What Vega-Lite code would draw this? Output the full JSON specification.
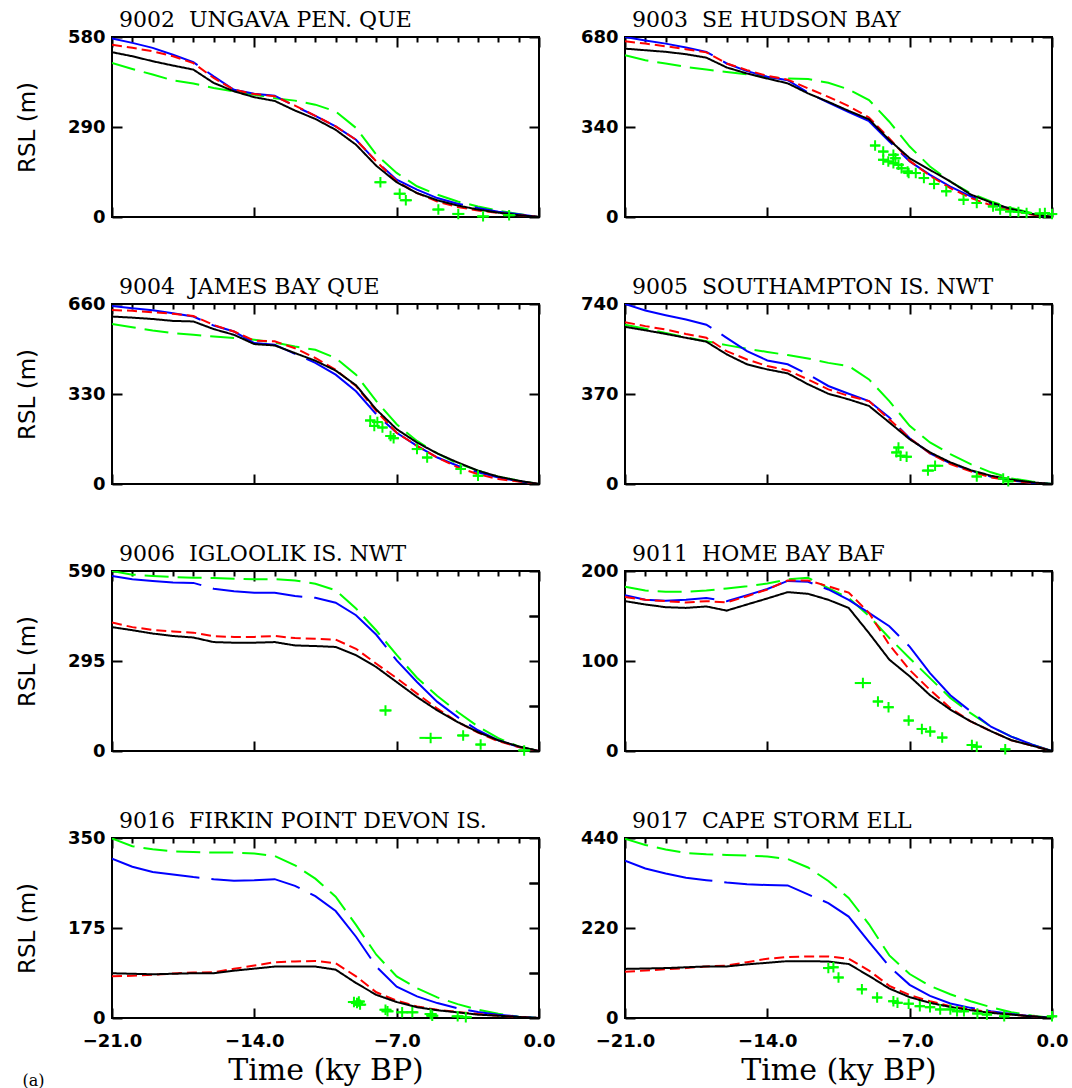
{
"$schema": "https://vega.github.io/schema/vega-lite/v6.json",
"background": "white",
"padding": {"left": 15, "top": 8, "right": 2, "bottom": 0},
"bounds": "flush",
"columns": 2,
"spacing": {"row": 87, "column": 86},
"title": {"text": "(a)", "orient": "bottom", "anchor": "start", "font": "DejaVu Serif", "fontSize": 16, "fontWeight": "normal", "offset": -13, "color": "black", "frame": "bounds"},
"datasets": {
"models": [
{"s":"9002","t":-21,"k":531,"r":555,"b":575,"g":496},
{"s":"9002","t":-20,"k":518,"r":545,"b":561,"g":477},
{"s":"9002","t":-19,"k":502,"r":534,"b":545,"g":459},
{"s":"9002","t":-18,"k":488,"r":518,"b":523,"g":440},
{"s":"9002","t":-17,"k":475,"r":496,"b":499,"g":430},
{"s":"9002","t":-16,"k":432,"r":448,"b":453,"g":416},
{"s":"9002","t":-15,"k":405,"r":410,"b":410,"g":405},
{"s":"9002","t":-14,"k":386,"r":396,"b":397,"g":394},
{"s":"9002","t":-13,"k":374,"r":389,"b":391,"g":383},
{"s":"9002","t":-12,"k":343,"r":359,"b":357,"g":375},
{"s":"9002","t":-11,"k":316,"r":326,"b":326,"g":362},
{"s":"9002","t":-10,"k":281,"r":292,"b":292,"g":340},
{"s":"9002","t":-9,"k":233,"r":249,"b":249,"g":287},
{"s":"9002","t":-8,"k":165,"r":179,"b":179,"g":201},
{"s":"9002","t":-7,"k":112,"r":115,"b":120,"g":142},
{"s":"9002","t":-6,"k":77,"r":77,"b":88,"g":99},
{"s":"9002","t":-5,"k":54,"r":50,"b":61,"g":72},
{"s":"9002","t":-4,"k":37,"r":32,"b":43,"g":50},
{"s":"9002","t":-3,"k":24,"r":21,"b":29,"g":34},
{"s":"9002","t":-2,"k":14,"r":13,"b":17,"g":20},
{"s":"9002","t":-1,"k":6,"r":6,"b":9,"g":10},
{"s":"9002","t":0,"k":0,"r":0,"b":0,"g":0},
{"s":"9003","t":-21,"k":636,"r":664,"b":680,"g":611},
{"s":"9003","t":-20,"k":630,"r":655,"b":667,"g":592},
{"s":"9003","t":-19,"k":624,"r":645,"b":655,"g":580},
{"s":"9003","t":-18,"k":615,"r":634,"b":640,"g":567},
{"s":"9003","t":-17,"k":602,"r":622,"b":624,"g":557},
{"s":"9003","t":-16,"k":565,"r":580,"b":580,"g":548},
{"s":"9003","t":-15,"k":542,"r":555,"b":551,"g":539},
{"s":"9003","t":-14,"k":523,"r":533,"b":530,"g":529},
{"s":"9003","t":-13,"k":505,"r":519,"b":517,"g":523},
{"s":"9003","t":-12,"k":467,"r":486,"b":470,"g":521},
{"s":"9003","t":-11,"k":435,"r":454,"b":432,"g":507},
{"s":"9003","t":-10,"k":401,"r":419,"b":396,"g":482},
{"s":"9003","t":-9,"k":369,"r":376,"b":362,"g":442},
{"s":"9003","t":-8,"k":291,"r":297,"b":285,"g":360},
{"s":"9003","t":-7,"k":222,"r":212,"b":210,"g":266},
{"s":"9003","t":-6,"k":178,"r":156,"b":159,"g":191},
{"s":"9003","t":-5,"k":134,"r":109,"b":115,"g":134},
{"s":"9003","t":-4,"k":85,"r":72,"b":78,"g":90},
{"s":"9003","t":-3,"k":55,"r":44,"b":50,"g":59},
{"s":"9003","t":-2,"k":30,"r":24,"b":28,"g":34},
{"s":"9003","t":-1,"k":12,"r":9,"b":11,"g":15},
{"s":"9003","t":0,"k":0,"r":0,"b":0,"g":0},
{"s":"9004","t":-21,"k":614,"r":638,"b":653,"g":587},
{"s":"9004","t":-20,"k":610,"r":635,"b":644,"g":575},
{"s":"9004","t":-19,"k":605,"r":630,"b":637,"g":563},
{"s":"9004","t":-18,"k":598,"r":624,"b":626,"g":553},
{"s":"9004","t":-17,"k":596,"r":616,"b":614,"g":547},
{"s":"9004","t":-16,"k":568,"r":583,"b":581,"g":541},
{"s":"9004","t":-15,"k":547,"r":559,"b":559,"g":535},
{"s":"9004","t":-14,"k":513,"r":526,"b":517,"g":529},
{"s":"9004","t":-13,"k":508,"r":523,"b":511,"g":519},
{"s":"9004","t":-12,"k":480,"r":498,"b":477,"g":504},
{"s":"9004","t":-11,"k":452,"r":462,"b":444,"g":492},
{"s":"9004","t":-10,"k":416,"r":419,"b":401,"g":462},
{"s":"9004","t":-9,"k":362,"r":359,"b":340,"g":401},
{"s":"9004","t":-8,"k":273,"r":267,"b":255,"g":304},
{"s":"9004","t":-7,"k":201,"r":188,"b":188,"g":219},
{"s":"9004","t":-6,"k":152,"r":140,"b":140,"g":158},
{"s":"9004","t":-5,"k":112,"r":97,"b":97,"g":112},
{"s":"9004","t":-4,"k":79,"r":61,"b":67,"g":75},
{"s":"9004","t":-3,"k":49,"r":36,"b":43,"g":49},
{"s":"9004","t":-2,"k":27,"r":18,"b":24,"g":27},
{"s":"9004","t":-1,"k":12,"r":9,"b":10,"g":12},
{"s":"9004","t":0,"k":0,"r":0,"b":0,"g":0},
{"s":"9005","t":-21,"k":646,"r":665,"b":740,"g":655},
{"s":"9005","t":-20,"k":632,"r":649,"b":713,"g":638},
{"s":"9005","t":-19,"k":617,"r":635,"b":694,"g":621},
{"s":"9005","t":-18,"k":601,"r":617,"b":676,"g":603},
{"s":"9005","t":-17,"k":585,"r":601,"b":655,"g":587},
{"s":"9005","t":-16,"k":533,"r":546,"b":601,"g":571},
{"s":"9005","t":-15,"k":492,"r":512,"b":546,"g":556},
{"s":"9005","t":-14,"k":471,"r":485,"b":508,"g":543},
{"s":"9005","t":-13,"k":455,"r":467,"b":492,"g":530},
{"s":"9005","t":-12,"k":410,"r":430,"b":451,"g":516},
{"s":"9005","t":-11,"k":371,"r":389,"b":403,"g":498},
{"s":"9005","t":-10,"k":348,"r":362,"b":371,"g":485},
{"s":"9005","t":-9,"k":321,"r":341,"b":341,"g":430},
{"s":"9005","t":-8,"k":253,"r":266,"b":273,"g":341},
{"s":"9005","t":-7,"k":184,"r":188,"b":188,"g":239},
{"s":"9005","t":-6,"k":130,"r":126,"b":126,"g":171},
{"s":"9005","t":-5,"k":89,"r":82,"b":85,"g":123},
{"s":"9005","t":-4,"k":57,"r":52,"b":55,"g":82},
{"s":"9005","t":-3,"k":34,"r":27,"b":30,"g":48},
{"s":"9005","t":-2,"k":18,"r":14,"b":14,"g":23},
{"s":"9005","t":-1,"k":7,"r":5,"b":5,"g":10},
{"s":"9005","t":0,"k":0,"r":0,"b":0,"g":0},
{"s":"9006","t":-21,"k":406,"r":421,"b":574,"g":590},
{"s":"9006","t":-20,"k":396,"r":406,"b":563,"g":578},
{"s":"9006","t":-19,"k":385,"r":397,"b":557,"g":574},
{"s":"9006","t":-18,"k":377,"r":392,"b":552,"g":570},
{"s":"9006","t":-17,"k":372,"r":388,"b":551,"g":568},
{"s":"9006","t":-16,"k":357,"r":376,"b":532,"g":567},
{"s":"9006","t":-15,"k":355,"r":374,"b":524,"g":565},
{"s":"9006","t":-14,"k":355,"r":374,"b":519,"g":563},
{"s":"9006","t":-13,"k":357,"r":377,"b":519,"g":563},
{"s":"9006","t":-12,"k":346,"r":370,"b":508,"g":559},
{"s":"9006","t":-11,"k":344,"r":368,"b":502,"g":548},
{"s":"9006","t":-10,"k":341,"r":365,"b":486,"g":527},
{"s":"9006","t":-9,"k":314,"r":335,"b":445,"g":467},
{"s":"9006","t":-8,"k":275,"r":286,"b":381,"g":395},
{"s":"9006","t":-7,"k":226,"r":239,"b":297,"g":315},
{"s":"9006","t":-6,"k":177,"r":188,"b":226,"g":240},
{"s":"9006","t":-5,"k":133,"r":139,"b":161,"g":180},
{"s":"9006","t":-4,"k":95,"r":95,"b":111,"g":128},
{"s":"9006","t":-3,"k":62,"r":60,"b":68,"g":80},
{"s":"9006","t":-2,"k":35,"r":32,"b":35,"g":42},
{"s":"9006","t":-1,"k":15,"r":13,"b":13,"g":15},
{"s":"9006","t":0,"k":0,"r":0,"b":0,"g":0},
{"s":"9011","t":-21,"k":166.5,"r":171,"b":173,"g":182.5},
{"s":"9011","t":-20,"k":162.8,"r":168,"b":168,"g":178.4},
{"s":"9011","t":-19,"k":159.8,"r":166.5,"b":167,"g":177},
{"s":"9011","t":-18,"k":159,"r":165,"b":168,"g":177},
{"s":"9011","t":-17,"k":160.6,"r":166.5,"b":170,"g":178.4},
{"s":"9011","t":-16,"k":156,"r":165,"b":166.5,"g":180.6},
{"s":"9011","t":-15,"k":162.8,"r":172,"b":173,"g":183},
{"s":"9011","t":-14,"k":169.5,"r":179.5,"b":180,"g":186},
{"s":"9011","t":-13,"k":176.5,"r":189.5,"b":189,"g":190.7},
{"s":"9011","t":-12,"k":174.7,"r":189.5,"b":188,"g":192.5},
{"s":"9011","t":-11,"k":168,"r":183,"b":179.5,"g":181},
{"s":"9011","t":-10,"k":159,"r":176,"b":168,"g":170},
{"s":"9011","t":-9,"k":131,"r":153.5,"b":153.5,"g":150},
{"s":"9011","t":-8,"k":101.5,"r":118,"b":138.6,"g":125.6},
{"s":"9011","t":-7,"k":83,"r":90,"b":116,"g":103},
{"s":"9011","t":-6,"k":62,"r":68,"b":86.6,"g":81},
{"s":"9011","t":-5,"k":46,"r":47.6,"b":62,"g":59},
{"s":"9011","t":-4,"k":33,"r":33,"b":44,"g":42},
{"s":"9011","t":-3,"k":22,"r":22,"b":27,"g":27},
{"s":"9011","t":-2,"k":12,"r":12,"b":16,"g":16},
{"s":"9011","t":-1,"k":6,"r":6,"b":7.4,"g":7.4},
{"s":"9011","t":0,"k":0,"r":0,"b":0,"g":0},
{"s":"9016","t":-21,"k":87,"r":81,"b":310,"g":349},
{"s":"9016","t":-20,"k":86,"r":82,"b":294,"g":334},
{"s":"9016","t":-19,"k":85,"r":84,"b":284,"g":328},
{"s":"9016","t":-18,"k":86,"r":86.5,"b":279,"g":324},
{"s":"9016","t":-17,"k":87,"r":88.5,"b":274,"g":323},
{"s":"9016","t":-16,"k":87,"r":89,"b":270,"g":321.6},
{"s":"9016","t":-15,"k":92,"r":95.6,"b":267,"g":321.6},
{"s":"9016","t":-14,"k":96,"r":102,"b":268,"g":320},
{"s":"9016","t":-13,"k":100,"r":108.5,"b":270,"g":315},
{"s":"9016","t":-12,"k":100,"r":110,"b":257,"g":297},
{"s":"9016","t":-11,"k":100,"r":111,"b":237,"g":271},
{"s":"9016","t":-10,"k":94,"r":106.5,"b":208,"g":236},
{"s":"9016","t":-9,"k":68,"r":81,"b":158,"g":181},
{"s":"9016","t":-8,"k":45,"r":50,"b":100,"g":123},
{"s":"9016","t":-7,"k":31,"r":33.6,"b":61,"g":81},
{"s":"9016","t":-6,"k":21,"r":22.6,"b":42,"g":58},
{"s":"9016","t":-5,"k":15,"r":16,"b":29,"g":40},
{"s":"9016","t":-4,"k":11,"r":11.6,"b":19,"g":27},
{"s":"9016","t":-3,"k":6.5,"r":7.7,"b":11.6,"g":16},
{"s":"9016","t":-2,"k":4.5,"r":4.5,"b":6.5,"g":8.4},
{"s":"9016","t":-1,"k":2,"r":2,"b":2.6,"g":2.6},
{"s":"9016","t":0,"k":0,"r":0,"b":0,"g":0},
{"s":"9017","t":-21,"k":120,"r":113,"b":384.5,"g":438},
{"s":"9017","t":-20,"k":121,"r":116,"b":365.5,"g":423},
{"s":"9017","t":-19,"k":122,"r":119,"b":353,"g":412},
{"s":"9017","t":-18,"k":124,"r":122,"b":343,"g":403.6},
{"s":"9017","t":-17,"k":126,"r":126,"b":337,"g":400},
{"s":"9017","t":-16,"k":126,"r":128,"b":331,"g":398.6},
{"s":"9017","t":-15,"k":131,"r":136.5,"b":327,"g":397},
{"s":"9017","t":-14,"k":135,"r":145,"b":325,"g":395},
{"s":"9017","t":-13,"k":139,"r":149,"b":324,"g":388.7},
{"s":"9017","t":-12,"k":139,"r":150.5,"b":302,"g":368},
{"s":"9017","t":-11,"k":138,"r":150.5,"b":281,"g":335},
{"s":"9017","t":-10,"k":132,"r":145,"b":248,"g":293.6},
{"s":"9017","t":-9,"k":103,"r":116,"b":186,"g":229},
{"s":"9017","t":-8,"k":72,"r":78.6,"b":126,"g":153},
{"s":"9017","t":-7,"k":51,"r":56,"b":81,"g":107.5},
{"s":"9017","t":-6,"k":37,"r":41,"b":54,"g":78.6},
{"s":"9017","t":-5,"k":27,"r":29,"b":35.6,"g":58},
{"s":"9017","t":-4,"k":19,"r":20.7,"b":24.8,"g":41},
{"s":"9017","t":-3,"k":12.4,"r":14,"b":16.5,"g":26.5},
{"s":"9017","t":-2,"k":8.3,"r":8.3,"b":10,"g":14},
{"s":"9017","t":-1,"k":4,"r":4,"b":4,"g":6},
{"s":"9017","t":0,"k":0,"r":0,"b":0,"g":0}
],
"obs": [
{"s":"9002","t":-7.8,"v":112,"e":0.3},
{"s":"9002","t":-6.85,"v":75,"e":0.3},
{"s":"9002","t":-6.55,"v":54,"e":0.3},
{"s":"9002","t":-4.95,"v":24,"e":0.3},
{"s":"9002","t":-3.97,"v":10,"e":0.3},
{"s":"9002","t":-2.75,"v":2,"e":0.3},
{"s":"9002","t":-1.47,"v":6,"e":0.3},
{"s":"9003","t":-8.7,"v":270,"e":0.25},
{"s":"9003","t":-8.3,"v":247,"e":0.25},
{"s":"9003","t":-7.8,"v":235,"e":0.25},
{"s":"9003","t":-7.7,"v":222,"e":0.25},
{"s":"9003","t":-8.3,"v":216,"e":0.25},
{"s":"9003","t":-8.05,"v":210,"e":0.25},
{"s":"9003","t":-7.8,"v":203,"e":0.25},
{"s":"9003","t":-7.55,"v":197,"e":0.25},
{"s":"9003","t":-7.4,"v":184,"e":0.25},
{"s":"9003","t":-7.1,"v":172,"e":0.25},
{"s":"9003","t":-7.05,"v":166,"e":0.25},
{"s":"9003","t":-6.7,"v":166,"e":0.25},
{"s":"9003","t":-6.3,"v":147,"e":0.25},
{"s":"9003","t":-5.8,"v":125,"e":0.25},
{"s":"9003","t":-5.2,"v":97,"e":0.25},
{"s":"9003","t":-4.35,"v":65,"e":0.25},
{"s":"9003","t":-3.7,"v":53,"e":0.25},
{"s":"9003","t":-2.9,"v":40,"e":0.25},
{"s":"9003","t":-2.55,"v":28,"e":0.25},
{"s":"9003","t":-2.05,"v":21,"e":0.25},
{"s":"9003","t":-1.65,"v":19,"e":0.25},
{"s":"9003","t":-1.25,"v":15,"e":0.25},
{"s":"9003","t":-0.6,"v":13,"e":0.25},
{"s":"9003","t":-0.35,"v":15,"e":0.25},
{"s":"9003","t":0,"v":11,"e":0.25},
{"s":"9004","t":-8.3,"v":233,"e":0.25},
{"s":"9004","t":-7.95,"v":227,"e":0.25},
{"s":"9004","t":-8.1,"v":213,"e":0.25},
{"s":"9004","t":-7.7,"v":207,"e":0.25},
{"s":"9004","t":-7.3,"v":176,"e":0.25},
{"s":"9004","t":-7.15,"v":168,"e":0.25},
{"s":"9004","t":-6.0,"v":128,"e":0.25},
{"s":"9004","t":-5.5,"v":97,"e":0.25},
{"s":"9004","t":-3.85,"v":55,"e":0.25},
{"s":"9004","t":-3.0,"v":30,"e":0.25},
{"s":"9005","t":-7.55,"v":150,"e":0.25},
{"s":"9005","t":-7.65,"v":130,"e":0.25},
{"s":"9005","t":-7.45,"v":116,"e":0.25},
{"s":"9005","t":-7.15,"v":112,"e":0.25},
{"s":"9005","t":-5.75,"v":75,"e":0.4},
{"s":"9005","t":-6.1,"v":55,"e":0.3},
{"s":"9005","t":-3.7,"v":31,"e":0.25},
{"s":"9005","t":-2.4,"v":23,"e":0.25},
{"s":"9005","t":-2.15,"v":11,"e":0.25},
{"s":"9006","t":-7.55,"v":133,"e":0.3},
{"s":"9006","t":-5.33,"v":43,"e":0.55},
{"s":"9006","t":-3.73,"v":51,"e":0.3},
{"s":"9006","t":-2.87,"v":21,"e":0.25},
{"s":"9006","t":-0.73,"v":2,"e":0.3},
{"s":"9011","t":-9.3,"v":75.5,"e":0.4},
{"s":"9011","t":-8.56,"v":55,"e":0.25},
{"s":"9011","t":-8.04,"v":48.7,"e":0.25},
{"s":"9011","t":-7.05,"v":33.8,"e":0.25},
{"s":"9011","t":-6.4,"v":24.5,"e":0.25},
{"s":"9011","t":-5.99,"v":21.6,"e":0.25},
{"s":"9011","t":-5.4,"v":14.9,"e":0.25},
{"s":"9011","t":-3.94,"v":6.7,"e":0.25},
{"s":"9011","t":-3.7,"v":4.8,"e":0.25},
{"s":"9011","t":-2.3,"v":1.9,"e":0.25},
{"s":"9016","t":-9.1,"v":31,"e":0.3},
{"s":"9016","t":-8.95,"v":29,"e":0.3},
{"s":"9016","t":-8.8,"v":26,"e":0.3},
{"s":"9016","t":-8.86,"v":32,"e":0.3},
{"s":"9016","t":-7.55,"v":16,"e":0.3},
{"s":"9016","t":-7.45,"v":13,"e":0.3},
{"s":"9016","t":-6.73,"v":11,"e":0.3},
{"s":"9016","t":-6.23,"v":11,"e":0.3},
{"s":"9016","t":-5.33,"v":7.7,"e":0.3},
{"s":"9016","t":-5.25,"v":4.5,"e":0.3},
{"s":"9016","t":-4.0,"v":3.2,"e":0.3},
{"s":"9016","t":-3.6,"v":1.3,"e":0.3},
{"s":"9017","t":-11.0,"v":122,"e":0.25},
{"s":"9017","t":-10.75,"v":124,"e":0.25},
{"s":"9017","t":-10.5,"v":99,"e":0.25},
{"s":"9017","t":-9.35,"v":70,"e":0.25},
{"s":"9017","t":-8.6,"v":50,"e":0.25},
{"s":"9017","t":-7.8,"v":41,"e":0.25},
{"s":"9017","t":-7.6,"v":37,"e":0.25},
{"s":"9017","t":-7.05,"v":35,"e":0.25},
{"s":"9017","t":-6.5,"v":29,"e":0.25},
{"s":"9017","t":-6.0,"v":26.5,"e":0.25},
{"s":"9017","t":-5.5,"v":21,"e":0.25},
{"s":"9017","t":-5.0,"v":21,"e":0.25},
{"s":"9017","t":-4.67,"v":16.5,"e":0.25},
{"s":"9017","t":-4.33,"v":16.5,"e":0.25},
{"s":"9017","t":-3.67,"v":11,"e":0.25},
{"s":"9017","t":-3.2,"v":8.3,"e":0.25},
{"s":"9017","t":-2.35,"v":4,"e":0.25},
{"s":"9017","t":0,"v":4,"e":0.25}
]
},
"concat": [
{"width":427,"height":180,"title":{"text":"9002\u00a0\u00a0UNGAVA PEN. QUE"},"resolve":{"axis":{"x":"independent","y":"independent"}},
"layer":[
{"data":{"name":"models"},"transform":[{"filter":"datum.s=='9002'"},{"fold":["g","b","r","k"],"as":["m","v"]}],"mark":{"type":"line","strokeWidth":2,"clip":true},
"encoding":{"x":{"field":"t","type":"quantitative","scale":{"domain":[-21,0]},"axis":{"values":[-21,-14,-7,0],"labels":false,"title":null}},
"y":{"field":"v","type":"quantitative","scale":{"domain":[0,580]},"axis":{"values":[0,290,580],"format":"d","title":"RSL (m)"}},
"color":{"field":"m","type":"nominal","scale":{"domain":["g","b","r","k"],"range":["#00ff00","#0000ff","#ff0000","#000000"]},"legend":null},
"strokeDash":{"field":"m","type":"nominal","scale":{"domain":["g","b","r","k"],"range":[[24,9],[90,12],[10,5],[1,0]]},"legend":null}}},
{"data":{"name":"obs"},"transform":[{"filter":"datum.s=='9002'"}],"mark":{"type":"errorbar","ticks":false,"color":"#00ff00","thickness":2},
"encoding":{"x":{"field":"t","type":"quantitative","scale":{"domain":[-21,0]},"axis":{"values":[-20,-19,-18,-17,-16,-15,-13,-12,-11,-10,-9,-8,-6,-5,-4,-3,-2,-1],"tickSize":-5,"labels":false,"title":null}},"xError":{"field":"e"},
"y":{"field":"v","type":"quantitative","scale":{"domain":[0,580]},"axis":null}}},
{"data":{"name":"obs"},"transform":[{"filter":"datum.s=='9002'"}],"mark":{"type":"point","shape":"M-1,0L1,0M0,-1L0,1","size":110,"strokeWidth":2,"color":"#00ff00","filled":false,"opacity":1},
"encoding":{"x":{"field":"t","type":"quantitative","scale":{"domain":[-21,0]},"axis":{"orient":"top","values":[-21,-14,-7,0],"labels":false,"title":null}},
"y":{"field":"v","type":"quantitative","scale":{"domain":[0,580]},"axis":{"orient":"right","values":[0,290,580],"labels":false,"title":null}}}}
]},
{"width":427,"height":180,"title":{"text":"9003\u00a0\u00a0SE HUDSON BAY"},"resolve":{"axis":{"x":"independent","y":"independent"}},
"layer":[
{"data":{"name":"models"},"transform":[{"filter":"datum.s=='9003'"},{"fold":["g","b","r","k"],"as":["m","v"]}],"mark":{"type":"line","strokeWidth":2,"clip":true},
"encoding":{"x":{"field":"t","type":"quantitative","scale":{"domain":[-21,0]},"axis":{"values":[-21,-14,-7,0],"labels":false,"title":null}},
"y":{"field":"v","type":"quantitative","scale":{"domain":[0,680]},"axis":{"values":[0,340,680],"format":"d","title":null}},
"color":{"field":"m","type":"nominal","scale":{"domain":["g","b","r","k"],"range":["#00ff00","#0000ff","#ff0000","#000000"]},"legend":null},
"strokeDash":{"field":"m","type":"nominal","scale":{"domain":["g","b","r","k"],"range":[[24,9],[90,12],[10,5],[1,0]]},"legend":null}}},
{"data":{"name":"obs"},"transform":[{"filter":"datum.s=='9003'"}],"mark":{"type":"errorbar","ticks":false,"color":"#00ff00","thickness":2},
"encoding":{"x":{"field":"t","type":"quantitative","scale":{"domain":[-21,0]},"axis":{"values":[-20,-19,-18,-17,-16,-15,-13,-12,-11,-10,-9,-8,-6,-5,-4,-3,-2,-1],"tickSize":-5,"labels":false,"title":null}},"xError":{"field":"e"},
"y":{"field":"v","type":"quantitative","scale":{"domain":[0,680]},"axis":null}}},
{"data":{"name":"obs"},"transform":[{"filter":"datum.s=='9003'"}],"mark":{"type":"point","shape":"M-1,0L1,0M0,-1L0,1","size":110,"strokeWidth":2,"color":"#00ff00","filled":false,"opacity":1},
"encoding":{"x":{"field":"t","type":"quantitative","scale":{"domain":[-21,0]},"axis":{"orient":"top","values":[-21,-14,-7,0],"labels":false,"title":null}},
"y":{"field":"v","type":"quantitative","scale":{"domain":[0,680]},"axis":{"orient":"right","values":[0,340,680],"labels":false,"title":null}}}}
]},
{"width":427,"height":180,"title":{"text":"9004\u00a0\u00a0JAMES BAY QUE"},"resolve":{"axis":{"x":"independent","y":"independent"}},
"layer":[
{"data":{"name":"models"},"transform":[{"filter":"datum.s=='9004'"},{"fold":["g","b","r","k"],"as":["m","v"]}],"mark":{"type":"line","strokeWidth":2,"clip":true},
"encoding":{"x":{"field":"t","type":"quantitative","scale":{"domain":[-21,0]},"axis":{"values":[-21,-14,-7,0],"labels":false,"title":null}},
"y":{"field":"v","type":"quantitative","scale":{"domain":[0,660]},"axis":{"values":[0,330,660],"format":"d","title":"RSL (m)"}},
"color":{"field":"m","type":"nominal","scale":{"domain":["g","b","r","k"],"range":["#00ff00","#0000ff","#ff0000","#000000"]},"legend":null},
"strokeDash":{"field":"m","type":"nominal","scale":{"domain":["g","b","r","k"],"range":[[24,9],[90,12],[10,5],[1,0]]},"legend":null}}},
{"data":{"name":"obs"},"transform":[{"filter":"datum.s=='9004'"}],"mark":{"type":"errorbar","ticks":false,"color":"#00ff00","thickness":2},
"encoding":{"x":{"field":"t","type":"quantitative","scale":{"domain":[-21,0]},"axis":{"values":[-20,-19,-18,-17,-16,-15,-13,-12,-11,-10,-9,-8,-6,-5,-4,-3,-2,-1],"tickSize":-5,"labels":false,"title":null}},"xError":{"field":"e"},
"y":{"field":"v","type":"quantitative","scale":{"domain":[0,660]},"axis":null}}},
{"data":{"name":"obs"},"transform":[{"filter":"datum.s=='9004'"}],"mark":{"type":"point","shape":"M-1,0L1,0M0,-1L0,1","size":110,"strokeWidth":2,"color":"#00ff00","filled":false,"opacity":1},
"encoding":{"x":{"field":"t","type":"quantitative","scale":{"domain":[-21,0]},"axis":{"orient":"top","values":[-21,-14,-7,0],"labels":false,"title":null}},
"y":{"field":"v","type":"quantitative","scale":{"domain":[0,660]},"axis":{"orient":"right","values":[0,330,660],"labels":false,"title":null}}}}
]},
{"width":427,"height":180,"title":{"text":"9005\u00a0\u00a0SOUTHAMPTON IS. NWT"},"resolve":{"axis":{"x":"independent","y":"independent"}},
"layer":[
{"data":{"name":"models"},"transform":[{"filter":"datum.s=='9005'"},{"fold":["g","b","r","k"],"as":["m","v"]}],"mark":{"type":"line","strokeWidth":2,"clip":true},
"encoding":{"x":{"field":"t","type":"quantitative","scale":{"domain":[-21,0]},"axis":{"values":[-21,-14,-7,0],"labels":false,"title":null}},
"y":{"field":"v","type":"quantitative","scale":{"domain":[0,740]},"axis":{"values":[0,370,740],"format":"d","title":null}},
"color":{"field":"m","type":"nominal","scale":{"domain":["g","b","r","k"],"range":["#00ff00","#0000ff","#ff0000","#000000"]},"legend":null},
"strokeDash":{"field":"m","type":"nominal","scale":{"domain":["g","b","r","k"],"range":[[24,9],[90,12],[10,5],[1,0]]},"legend":null}}},
{"data":{"name":"obs"},"transform":[{"filter":"datum.s=='9005'"}],"mark":{"type":"errorbar","ticks":false,"color":"#00ff00","thickness":2},
"encoding":{"x":{"field":"t","type":"quantitative","scale":{"domain":[-21,0]},"axis":{"values":[-20,-19,-18,-17,-16,-15,-13,-12,-11,-10,-9,-8,-6,-5,-4,-3,-2,-1],"tickSize":-5,"labels":false,"title":null}},"xError":{"field":"e"},
"y":{"field":"v","type":"quantitative","scale":{"domain":[0,740]},"axis":null}}},
{"data":{"name":"obs"},"transform":[{"filter":"datum.s=='9005'"}],"mark":{"type":"point","shape":"M-1,0L1,0M0,-1L0,1","size":110,"strokeWidth":2,"color":"#00ff00","filled":false,"opacity":1},
"encoding":{"x":{"field":"t","type":"quantitative","scale":{"domain":[-21,0]},"axis":{"orient":"top","values":[-21,-14,-7,0],"labels":false,"title":null}},
"y":{"field":"v","type":"quantitative","scale":{"domain":[0,740]},"axis":{"orient":"right","values":[0,370,740],"labels":false,"title":null}}}}
]},
{"width":427,"height":180,"title":{"text":"9006\u00a0\u00a0IGLOOLIK IS. NWT"},"resolve":{"axis":{"x":"independent","y":"independent"}},
"layer":[
{"data":{"name":"models"},"transform":[{"filter":"datum.s=='9006'"},{"fold":["g","b","r","k"],"as":["m","v"]}],"mark":{"type":"line","strokeWidth":2,"clip":true},
"encoding":{"x":{"field":"t","type":"quantitative","scale":{"domain":[-21,0]},"axis":{"values":[-21,-14,-7,0],"labels":false,"title":null}},
"y":{"field":"v","type":"quantitative","scale":{"domain":[0,590]},"axis":{"values":[0,295,590],"format":"d","title":"RSL (m)"}},
"color":{"field":"m","type":"nominal","scale":{"domain":["g","b","r","k"],"range":["#00ff00","#0000ff","#ff0000","#000000"]},"legend":null},
"strokeDash":{"field":"m","type":"nominal","scale":{"domain":["g","b","r","k"],"range":[[24,9],[90,12],[10,5],[1,0]]},"legend":null}}},
{"data":{"name":"obs"},"transform":[{"filter":"datum.s=='9006'"}],"mark":{"type":"errorbar","ticks":false,"color":"#00ff00","thickness":2},
"encoding":{"x":{"field":"t","type":"quantitative","scale":{"domain":[-21,0]},"axis":{"values":[-20,-19,-18,-17,-16,-15,-13,-12,-11,-10,-9,-8,-6,-5,-4,-3,-2,-1],"tickSize":-5,"labels":false,"title":null}},"xError":{"field":"e"},
"y":{"field":"v","type":"quantitative","scale":{"domain":[0,590]},"axis":{"values":[147.5,442.5],"labels":false,"title":null}}}},
{"data":{"name":"obs"},"transform":[{"filter":"datum.s=='9006'"}],"mark":{"type":"point","shape":"M-1,0L1,0M0,-1L0,1","size":110,"strokeWidth":2,"color":"#00ff00","filled":false,"opacity":1},
"encoding":{"x":{"field":"t","type":"quantitative","scale":{"domain":[-21,0]},"axis":{"orient":"top","values":[-21,-14,-7,0],"labels":false,"title":null}},
"y":{"field":"v","type":"quantitative","scale":{"domain":[0,590]},"axis":{"orient":"right","values":[0,147.5,295,442.5,590],"labels":false,"title":null}}}}
]},
{"width":427,"height":180,"title":{"text":"9011\u00a0\u00a0HOME BAY BAF"},"resolve":{"axis":{"x":"independent","y":"independent"}},
"layer":[
{"data":{"name":"models"},"transform":[{"filter":"datum.s=='9011'"},{"fold":["g","b","r","k"],"as":["m","v"]}],"mark":{"type":"line","strokeWidth":2,"clip":true},
"encoding":{"x":{"field":"t","type":"quantitative","scale":{"domain":[-21,0]},"axis":{"values":[-21,-14,-7,0],"labels":false,"title":null}},
"y":{"field":"v","type":"quantitative","scale":{"domain":[0,200]},"axis":{"values":[0,100,200],"format":"d","title":null}},
"color":{"field":"m","type":"nominal","scale":{"domain":["g","b","r","k"],"range":["#00ff00","#0000ff","#ff0000","#000000"]},"legend":null},
"strokeDash":{"field":"m","type":"nominal","scale":{"domain":["g","b","r","k"],"range":[[24,9],[90,12],[10,5],[1,0]]},"legend":null}}},
{"data":{"name":"obs"},"transform":[{"filter":"datum.s=='9011'"}],"mark":{"type":"errorbar","ticks":false,"color":"#00ff00","thickness":2},
"encoding":{"x":{"field":"t","type":"quantitative","scale":{"domain":[-21,0]},"axis":{"values":[-20,-19,-18,-17,-16,-15,-13,-12,-11,-10,-9,-8,-6,-5,-4,-3,-2,-1],"tickSize":-5,"labels":false,"title":null}},"xError":{"field":"e"},
"y":{"field":"v","type":"quantitative","scale":{"domain":[0,200]},"axis":null}}},
{"data":{"name":"obs"},"transform":[{"filter":"datum.s=='9011'"}],"mark":{"type":"point","shape":"M-1,0L1,0M0,-1L0,1","size":110,"strokeWidth":2,"color":"#00ff00","filled":false,"opacity":1},
"encoding":{"x":{"field":"t","type":"quantitative","scale":{"domain":[-21,0]},"axis":{"orient":"top","values":[-21,-14,-7,0],"labels":false,"title":null}},
"y":{"field":"v","type":"quantitative","scale":{"domain":[0,200]},"axis":{"orient":"right","values":[0,100,200],"labels":false,"title":null}}}}
]},
{"width":427,"height":180,"title":{"text":"9016\u00a0\u00a0FIRKIN POINT DEVON IS."},"resolve":{"axis":{"x":"independent","y":"independent"}},
"layer":[
{"data":{"name":"models"},"transform":[{"filter":"datum.s=='9016'"},{"fold":["g","b","r","k"],"as":["m","v"]}],"mark":{"type":"line","strokeWidth":2,"clip":true},
"encoding":{"x":{"field":"t","type":"quantitative","scale":{"domain":[-21,0]},"axis":{"values":[-21,-14,-7,0],"format":".1f","title":"Time (ky BP)"}},
"y":{"field":"v","type":"quantitative","scale":{"domain":[0,350]},"axis":{"values":[0,175,350],"format":"d","title":"RSL (m)"}},
"color":{"field":"m","type":"nominal","scale":{"domain":["g","b","r","k"],"range":["#00ff00","#0000ff","#ff0000","#000000"]},"legend":null},
"strokeDash":{"field":"m","type":"nominal","scale":{"domain":["g","b","r","k"],"range":[[24,9],[90,12],[10,5],[1,0]]},"legend":null}}},
{"data":{"name":"obs"},"transform":[{"filter":"datum.s=='9016'"}],"mark":{"type":"errorbar","ticks":false,"color":"#00ff00","thickness":2},
"encoding":{"x":{"field":"t","type":"quantitative","scale":{"domain":[-21,0]},"axis":{"values":[-20,-19,-18,-17,-16,-15,-13,-12,-11,-10,-9,-8,-6,-5,-4,-3,-2,-1],"tickSize":-5,"labels":false,"title":null}},"xError":{"field":"e"},
"y":{"field":"v","type":"quantitative","scale":{"domain":[0,350]},"axis":{"values":[87.5,262.5],"labels":false,"title":null}}}},
{"data":{"name":"obs"},"transform":[{"filter":"datum.s=='9016'"}],"mark":{"type":"point","shape":"M-1,0L1,0M0,-1L0,1","size":110,"strokeWidth":2,"color":"#00ff00","filled":false,"opacity":1},
"encoding":{"x":{"field":"t","type":"quantitative","scale":{"domain":[-21,0]},"axis":{"orient":"top","values":[-21,-14,-7,0],"labels":false,"title":null}},
"y":{"field":"v","type":"quantitative","scale":{"domain":[0,350]},"axis":{"orient":"right","values":[0,87.5,175,262.5,350],"labels":false,"title":null}}}}
]},
{"width":427,"height":180,"title":{"text":"9017\u00a0\u00a0CAPE STORM ELL"},"resolve":{"axis":{"x":"independent","y":"independent"}},
"layer":[
{"data":{"name":"models"},"transform":[{"filter":"datum.s=='9017'"},{"fold":["g","b","r","k"],"as":["m","v"]}],"mark":{"type":"line","strokeWidth":2,"clip":true},
"encoding":{"x":{"field":"t","type":"quantitative","scale":{"domain":[-21,0]},"axis":{"values":[-21,-14,-7,0],"format":".1f","title":"Time (ky BP)"}},
"y":{"field":"v","type":"quantitative","scale":{"domain":[0,440]},"axis":{"values":[0,220,440],"format":"d","title":null}},
"color":{"field":"m","type":"nominal","scale":{"domain":["g","b","r","k"],"range":["#00ff00","#0000ff","#ff0000","#000000"]},"legend":null},
"strokeDash":{"field":"m","type":"nominal","scale":{"domain":["g","b","r","k"],"range":[[24,9],[90,12],[10,5],[1,0]]},"legend":null}}},
{"data":{"name":"obs"},"transform":[{"filter":"datum.s=='9017'"}],"mark":{"type":"errorbar","ticks":false,"color":"#00ff00","thickness":2},
"encoding":{"x":{"field":"t","type":"quantitative","scale":{"domain":[-21,0]},"axis":{"values":[-20,-19,-18,-17,-16,-15,-13,-12,-11,-10,-9,-8,-6,-5,-4,-3,-2,-1],"tickSize":-5,"labels":false,"title":null}},"xError":{"field":"e"},
"y":{"field":"v","type":"quantitative","scale":{"domain":[0,440]},"axis":null}}},
{"data":{"name":"obs"},"transform":[{"filter":"datum.s=='9017'"}],"mark":{"type":"point","shape":"M-1,0L1,0M0,-1L0,1","size":110,"strokeWidth":2,"color":"#00ff00","filled":false,"opacity":1},
"encoding":{"x":{"field":"t","type":"quantitative","scale":{"domain":[-21,0]},"axis":{"orient":"top","values":[-21,-14,-7,0],"labels":false,"title":null}},
"y":{"field":"v","type":"quantitative","scale":{"domain":[0,440]},"axis":{"orient":"right","values":[0,220,440],"labels":false,"title":null}}}}
]}
],
"config": {
"view": {"stroke": "black", "strokeWidth": 2},
"axis": {"domain": false, "grid": false, "ticks": true, "tickColor": "black", "tickWidth": 2, "tickSize": -10, "zindex": 1, "labelFlush": false, "labelOverlap": false, "labelFont": "DejaVu Sans", "labelFontWeight": "bold", "labelFontSize": 18, "labelColor": "black", "titleFont": "DejaVu Serif", "titleFontWeight": "normal", "titleColor": "black"},
"axisX": {"titleFontSize": 30, "titlePadding": 5, "labelPadding": 24},
"axisY": {"titleFont": "DejaVu Sans", "titleFontSize": 23, "titlePadding": 28, "labelPadding": 17},
"title": {"font": "DejaVu Serif", "fontSize": 22, "fontWeight": "normal", "anchor": "start", "frame": "group", "color": "black", "dx": 7, "offset": -4, "baseline": "alphabetic"}
}
}
